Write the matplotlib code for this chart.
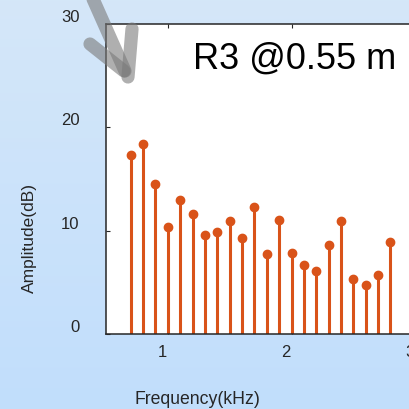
import numpy as np
import matplotlib
matplotlib.use("Agg")
import matplotlib.pyplot as plt
from matplotlib.lines import Line2D
from matplotlib.transforms import ScaledTranslation

plt.rcParams['font.family'] = ['Liberation Sans', 'DejaVu Sans']

# data
freq_khz = [0.7, 0.8, 0.9, 1.0, 1.1, 1.2, 1.3, 1.4, 1.5, 1.6, 1.7,
            1.8, 1.9, 2.0, 2.1, 2.2, 2.3, 2.4, 2.5, 2.6, 2.7, 2.8]
amp_db = [17.3, 18.4, 14.5, 10.4, 13.0, 11.6, 9.6, 9.9, 10.9, 9.3, 12.3,
          7.7, 11.0, 7.8, 6.7, 6.1, 8.6, 10.9, 5.3, 4.7, 5.7, 8.9]
xticks = [1, 2, 3]
yticks = [0, 10, 20, 30]
title = "R3 @0.55 m"

W = H = 410
fig = plt.figure(figsize=(4.1, 4.1), dpi=100)

# light blue gradient background
bg = fig.add_axes([0, 0, 1, 1], zorder=-10)
top = np.array([0.835, 0.906, 0.976])
bot = np.array([0.757, 0.871, 0.988])
t = np.linspace(0, 1, 256)[:, None]
grad = top * (1 - t) + bot * t
bg.imshow(grad[:, None, :].repeat(2, axis=1), aspect='auto', extent=[0, 1, 0, 1])
bg.axis('off')

def px(x, y):
    return x / W, 1 - y / H

ax_left, ax_top, ax_bot = 106, 25, 335
ax = fig.add_axes([ax_left / W, 1 - ax_bot / H, 371 / W, (ax_bot - ax_top) / H])
ax.set_facecolor('white')

c = '#D95319'
markers, stems, base = ax.stem(freq_khz, amp_db, linefmt='-', markerfmt='o', basefmt=' ')
plt.setp(stems, color=c, linewidth=2.2)
plt.setp(markers, color=c, markersize=6)

ax.set_xlim(0.5, 3.5)
ax.set_ylim(0, 30)
ax.set_xticks(xticks)
ax.set_yticks(yticks)
ax.tick_params(direction='in', length=3, width=0.8, color='#262626',
               labelsize=12, labelcolor='#262626', top=True, right=True)
ax.tick_params(axis='y', pad=19)
ax.tick_params(axis='x', pad=7)
for s in ax.spines.values():
    s.set_color('#262626')
    s.set_linewidth(1.1)

# tick labels sit a little off their ticks in the original
for lab in ax.get_yticklabels():
    lab.set_transform(lab.get_transform() + ScaledTranslation(0, 0.09, fig.dpi_scale_trans))
for lab in ax.get_xticklabels():
    lab.set_transform(lab.get_transform() + ScaledTranslation(-0.055, 0, fig.dpi_scale_trans))

x, y = px(197, 400)
fig.text(x, y, "Frequency(kHz)", ha='center', va='center', fontsize=12.7, color='#262626')
x, y = px(29, 238)
fig.text(x, y, "Amplitude(dB)", ha='center', va='center', rotation=90, fontsize=12.5, color='#262626')
x, y = px(193, 68.5)
fig.text(x, y, title, ha='left', va='baseline', fontsize=26, color='black')

# gray arrow in the top left corner
arrow_parts = [((93, 0), (125, 72)), ((90, 45), (124, 72)), ((132, 30), (128, 78))]
for (x0, y0), (x1, y1) in arrow_parts:
    a, b = px(x0, y0)
    c2, d = px(x1, y1)
    fig.add_artist(Line2D([a, c2], [b, d], transform=fig.transFigure,
                          color='#7a7a7a', alpha=0.6, linewidth=9.5,
                          solid_capstyle='round', zorder=20))

fig.savefig('out.png', dpi=100)
